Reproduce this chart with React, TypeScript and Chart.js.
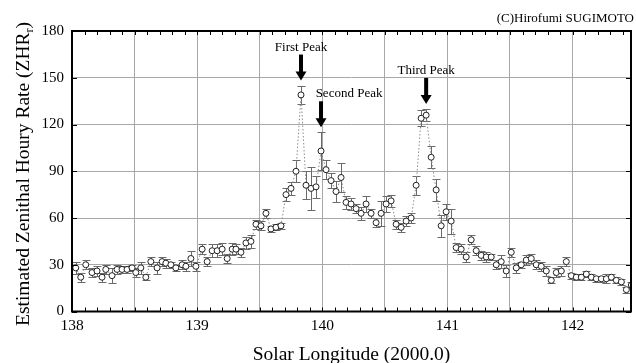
import { useEffect, useRef } from 'react';
import { Chart, registerables } from 'chart.js';

Chart.register(...registerables);

// Solar longitude (J2000.0) of each counting interval
const solarLongitude = [
  138.03, 138.07, 138.11, 138.16, 138.20, 138.24, 138.27, 138.32, 138.36, 138.40,
  138.44, 138.48, 138.51, 138.55, 138.59, 138.63, 138.68, 138.72, 138.75, 138.79,
  138.83, 138.88, 138.91, 138.95, 138.99, 139.04, 139.08, 139.12, 139.16, 139.20,
  139.24, 139.28, 139.31, 139.35, 139.39, 139.43, 139.47, 139.51, 139.55, 139.59,
  139.63, 139.67, 139.71, 139.75, 139.79, 139.83, 139.87, 139.91, 139.95, 139.99,
  140.03, 140.07, 140.11, 140.15, 140.19, 140.23, 140.27, 140.31, 140.35, 140.39,
  140.43, 140.47, 140.51, 140.55, 140.59, 140.63, 140.67, 140.71, 140.75, 140.79,
  140.83, 140.87, 140.91, 140.95, 140.99, 141.03, 141.07, 141.11, 141.15, 141.19,
  141.23, 141.27, 141.31, 141.35, 141.39, 141.43, 141.47, 141.51, 141.55, 141.59,
  141.63, 141.67, 141.71, 141.75, 141.79, 141.83, 141.87, 141.91, 141.95, 141.99,
  142.03, 142.07, 142.11, 142.15, 142.19, 142.23, 142.27, 142.31, 142.35, 142.39,
  142.43, 142.47,
];

// Estimated ZHR for each interval
const zhr = [
  28, 22, 30, 25, 26, 22, 27, 23, 27, 27,
  27, 28, 25, 28, 22, 32, 28, 32, 31, 30,
  28, 30, 29, 34, 29, 40, 32, 39, 39, 40,
  34, 40, 40, 38, 44, 45, 56, 55, 63, 53,
  54, 55, 75, 79, 90, 139, 81, 79, 80, 103,
  91, 84, 77, 86, 70, 69, 66, 63, 69, 63,
  57, 63, 69, 71, 56, 54, 58, 60, 81, 124,
  126, 99, 78, 55, 64, 58, 41, 40, 35, 46,
  39, 36, 35, 35, 30, 32, 26, 38, 28, 30,
  33, 34, 30, 29, 26, 20, 25, 26, 32, 23,
  22, 22, 24, 22, 21, 21, 21, 22, 20, 19,
  14, 17,
];

// One-sigma uncertainty of each ZHR estimate
const zhrError = [
  4, 3, 3, 3, 3, 3, 3, 5, 3, 2,
  2, 2, 3, 4, 2, 3, 4, 3, 3, 2,
  2, 3, 3, 5, 3, 3, 3, 4, 4, 4,
  3, 4, 3, 3, 4, 4, 3, 3, 3, 2,
  2, 2, 4, 4, 7, 6, 9, 14, 7, 12,
  6, 5, 7, 9, 4, 4, 3, 4, 5, 3,
  3, 8, 5, 4, 3, 3, 3, 3, 6, 5,
  4, 7, 7, 7, 5, 8, 3, 3, 3, 3,
  3, 3, 3, 2, 3, 4, 4, 3, 3, 2,
  3, 3, 3, 3, 3, 2, 3, 3, 3, 2,
  2, 2, 2, 2, 2, 2, 3, 2, 2, 2,
  2, 2,
];

const xGridValues = [138, 138.5, 139, 139.5, 140, 140.5, 141, 141.5, 142];
const xLabelValues = [138, 139, 140, 141, 142];
const yTickValues = [0, 30, 60, 90, 120, 150, 180];

const peakNames = ['First Peak', 'Second Peak', 'Third Peak'];
const peakIndex = [45, 49, 70];

const SERIF = '"Liberation Serif", "Times New Roman", serif';

const errorBars = {
  id: 'errorBars',
  beforeDatasetsDraw(chart: any) {
    const { ctx, chartArea, scales } = chart;
    const x = scales.x;
    const y = scales.y;
    ctx.save();
    ctx.beginPath();
    ctx.rect(chartArea.left, chartArea.top, chartArea.right - chartArea.left, chartArea.bottom - chartArea.top);
    ctx.clip();
    ctx.strokeStyle = '#6a6a6a';
    ctx.lineWidth = 1;
    solarLongitude.forEach((lam, i) => {
      const px = Math.round(x.getPixelForValue(lam)) + 0.5;
      const top = Math.round(y.getPixelForValue(zhr[i] + zhrError[i])) + 0.5;
      const bot = Math.round(y.getPixelForValue(zhr[i] - zhrError[i])) + 0.5;
      ctx.beginPath();
      ctx.moveTo(px, top);
      ctx.lineTo(px, bot);
      ctx.moveTo(px - 4, top);
      ctx.lineTo(px + 4, top);
      ctx.moveTo(px - 4, bot);
      ctx.lineTo(px + 4, bot);
      ctx.stroke();
    });
    ctx.restore();
  },
};

const frameAndText = {
  id: 'frameAndText',
  afterDatasetsDraw(chart: any) {
    const { ctx, chartArea, scales } = chart;
    const x = scales.x;
    const y = scales.y;
    const { left, right, top, bottom } = chartArea;
    ctx.save();

    // inward minor ticks every 0.1 deg on top and bottom axes
    ctx.strokeStyle = '#000';
    ctx.lineWidth = 1;
    ctx.beginPath();
    for (let k = 0; k <= 50; k++) {
      const v = 138 + k / 10;
      if (v > x.max) break;
      const px = Math.round(x.getPixelForValue(v)) + 0.5;
      ctx.moveTo(px, bottom);
      ctx.lineTo(px, bottom - 4);
      ctx.moveTo(px, top);
      ctx.lineTo(px, top + 4);
    }
    yTickValues.forEach((v) => {
      const py = Math.round(y.getPixelForValue(v)) + 0.5;
      ctx.moveTo(left, py);
      ctx.lineTo(left + 5, py);
      ctx.moveTo(right, py);
      ctx.lineTo(right - 5, py);
    });
    ctx.stroke();

    // plot frame
    ctx.lineWidth = 2;
    ctx.strokeRect(left, top, right - left, bottom - top);

    // peak arrows and labels
    ctx.fillStyle = '#000';
    ctx.font = `13px ${SERIF}`;
    ctx.textAlign = 'center';
    ctx.textBaseline = 'alphabetic';
    const labelShift = [0, 28, 0];
    peakIndex.forEach((idx, k) => {
      const px = x.getPixelForValue(solarLongitude[idx]);
      const tip = y.getPixelForValue(zhr[idx] + zhrError[idx]) - 5;
      const tail = tip - 26;
      ctx.fillRect(px - 2, tail, 4, 18);
      ctx.beginPath();
      ctx.moveTo(px - 5.5, tip - 9);
      ctx.lineTo(px + 5.5, tip - 9);
      ctx.lineTo(px, tip);
      ctx.closePath();
      ctx.fill();
      ctx.fillText(peakNames[k], px + labelShift[k], tail - 4);
    });

    // credit line
    ctx.textAlign = 'right';
    ctx.font = `13px ${SERIF}`;
    ctx.fillText('(C)Hirofumi SUGIMOTO', 634, 22);

    // x-axis title
    ctx.textAlign = 'center';
    ctx.font = `19.5px ${SERIF}`;
    ctx.fillText('Solar Longitude (2000.0)', (left + right) / 2, 360);

    // y-axis title with subscript r
    const main = 'Estimated Zenithal Houry Rate (ZHR';
    const sub = 'r';
    const close = ')';
    ctx.font = `19.5px ${SERIF}`;
    const wMain = ctx.measureText(main).width;
    const wClose = ctx.measureText(close).width;
    ctx.font = `12px ${SERIF}`;
    const wSub = ctx.measureText(sub).width;
    const total = wMain + wSub + wClose;
    ctx.translate(29, 174);
    ctx.rotate(-Math.PI / 2);
    ctx.textAlign = 'left';
    ctx.font = `19.5px ${SERIF}`;
    ctx.fillText(main, -total / 2, 0);
    ctx.font = `12px ${SERIF}`;
    ctx.fillText(sub, -total / 2 + wMain, 4);
    ctx.font = `19.5px ${SERIF}`;
    ctx.fillText(close, -total / 2 + wMain + wSub, 0);

    ctx.restore();
  },
};

export default function App() {
  const canvasRef = useRef<HTMLCanvasElement | null>(null);

  useEffect(() => {
    document.body.style.margin = '0';
    const canvas = canvasRef.current;
    if (!canvas) return;
    const chart = new Chart(canvas, {
      type: 'line',
      data: {
        datasets: [
          {
            data: solarLongitude.map((lam, i) => ({ x: lam, y: zhr[i] })),
            borderColor: '#8a8a8a',
            borderWidth: 1,
            borderDash: [1.5, 2],
            tension: 0,
            pointRadius: 3,
            pointBackgroundColor: '#ffffff',
            pointBorderColor: '#222222',
            pointBorderWidth: 1,
          },
        ],
      },
      options: {
        responsive: false,
        animation: false,
        events: [],
        layout: { padding: { top: 31, right: 0, bottom: 0, left: 0 } },
        plugins: {
          legend: { display: false },
          tooltip: { enabled: false },
          title: { display: false },
        },
        scales: {
          x: {
            type: 'linear',
            min: 138,
            max: 142.467,
            afterBuildTicks: (scale: any) => {
              scale.ticks = xGridValues.map((v) => ({ value: v }));
            },
            afterFit: (scale: any) => {
              scale.height = 51.5;
            },
            grid: { color: '#a8a8a8', lineWidth: 1, drawTicks: false },
            border: { display: false },
            ticks: {
              padding: 5,
              color: '#000',
              font: { family: SERIF, size: 15.5 },
              maxRotation: 0,
              autoSkip: false,
              callback: (v: any) => (xLabelValues.includes(Number(v)) ? String(v) : ''),
            },
          },
          y: {
            type: 'linear',
            min: 0,
            max: 180,
            afterBuildTicks: (scale: any) => {
              scale.ticks = yTickValues.map((v) => ({ value: v }));
            },
            afterFit: (scale: any) => {
              scale.width = 72;
            },
            grid: { color: '#a8a8a8', lineWidth: 1, drawTicks: false },
            border: { display: false },
            ticks: {
              padding: 8,
              color: '#000',
              font: { family: SERIF, size: 15 },
            },
          },
        },
      },
      plugins: [errorBars, frameAndText],
    });
    return () => chart.destroy();
  }, []);

  return (
    <div style={{ width: 636, height: 363, background: '#fff' }}>
      <canvas ref={canvasRef} width={636} height={363} />
    </div>
  );
}
